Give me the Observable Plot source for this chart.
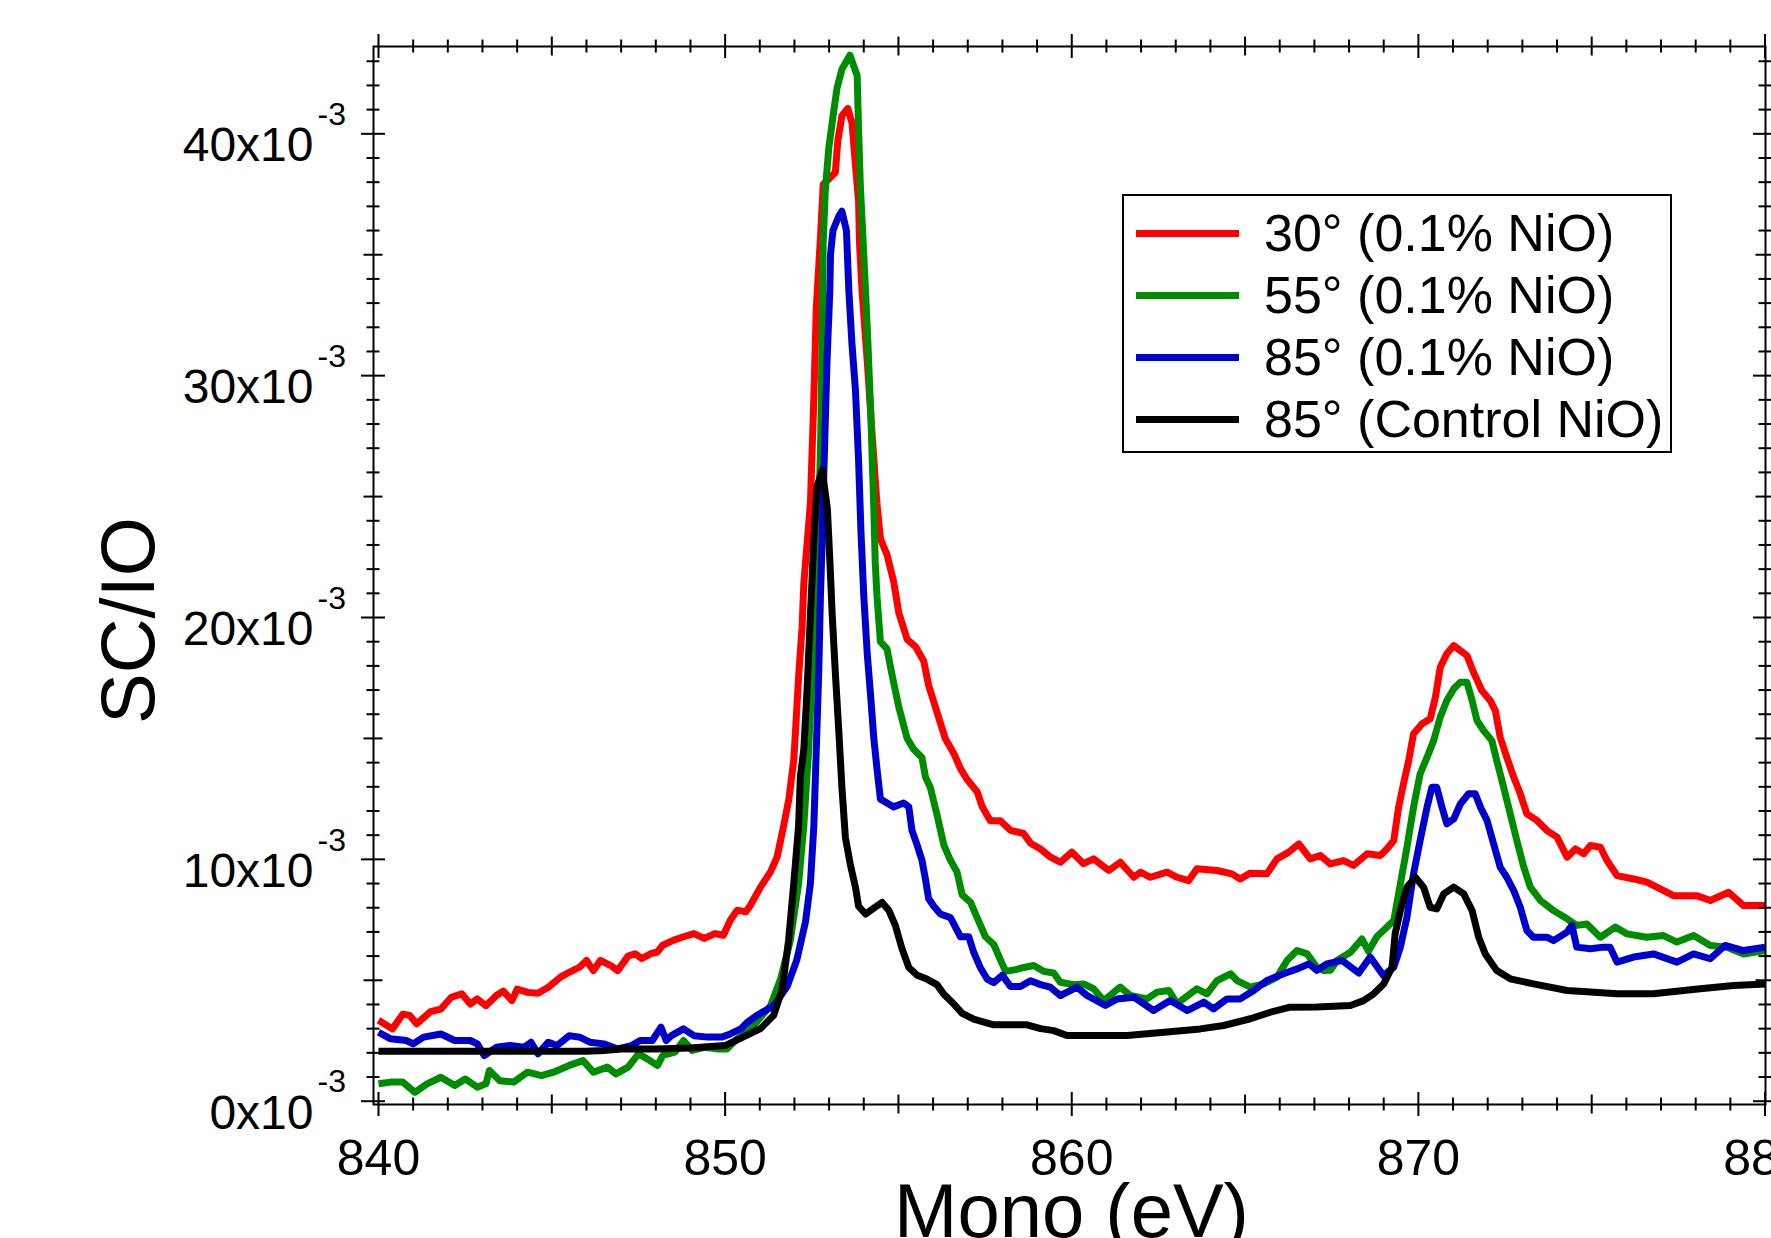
<!DOCTYPE html>
<html><head><meta charset="utf-8">
<script src="https://cdn.jsdelivr.net/npm/d3@7"></script>
<script src="https://cdn.jsdelivr.net/npm/@observablehq/plot@0.6"></script>
<style>
html,body{margin:0;padding:0;background:#fff;}
#wrap{position:relative;width:1771px;height:1238px;overflow:hidden;font-family:Arial,"Liberation Sans",sans-serif;}
#legend{position:absolute;left:1122px;top:194px;width:546px;height:255px;border:2px solid #000;background:#fff;}
.swatch{position:absolute;left:12px;width:103px;height:7px;}
.lab{position:absolute;left:140px;font-size:52px;line-height:52px;white-space:nowrap;color:#000;}
</style></head><body><div id="wrap"></div>
<script>
// Series values: [Mono (eV), SC/IO in units of 1e-3]
const red30 = [[840.0,3.35],[840.4,2.99],[840.7,3.6],[840.9,3.55],[841.1,3.2],[841.5,3.7],[841.8,3.81],[842.1,4.3],[842.4,4.44],[842.65,4.02],[842.85,4.23],[843.1,3.95],[843.4,4.37],[843.6,4.55],[843.85,4.16],[844.0,4.64],[844.3,4.5],[844.6,4.46],[844.9,4.71],[845.25,5.13],[845.5,5.33],[845.8,5.54],[846.0,5.82],[846.2,5.4],[846.4,5.82],[846.7,5.61],[846.9,5.4],[847.2,6.0],[847.4,6.1],[847.6,5.9],[847.85,6.1],[848.05,6.17],[848.2,6.45],[848.5,6.65],[848.8,6.8],[849.1,6.93],[849.4,6.73],[849.7,6.93],[849.95,6.86],[850.15,7.48],[850.35,7.9],[850.6,7.83],[850.73,8.1],[851.02,8.85],[851.31,9.48],[851.5,10.1],[851.69,11.4],[851.84,12.5],[851.98,14.1],[852.03,15.3],[852.12,17.55],[852.22,19.6],[852.27,21.4],[852.36,23.0],[852.46,24.7],[852.56,29.1],[852.63,32.8],[852.75,35.7],[852.83,37.9],[853.18,38.4],[853.25,39.7],[853.37,40.75],[853.54,41.05],[853.66,40.45],[853.76,38.7],[853.85,37.2],[853.88,35.4],[853.95,33.5],[854.1,30.6],[854.24,27.6],[854.38,24.7],[854.48,23.25],[854.67,22.6],[854.86,21.5],[855.01,20.2],[855.25,19.1],[855.49,18.8],[855.73,18.2],[855.87,17.2],[856.11,16.1],[856.35,15.0],[856.59,14.4],[856.79,13.75],[856.98,13.3],[857.27,12.8],[857.41,12.2],[857.65,11.6],[857.94,11.6],[858.23,11.2],[858.61,11.07],[858.81,10.67],[859.1,10.43],[859.38,10.1],[859.67,9.88],[860.0,10.3],[860.34,9.82],[860.63,10.02],[861.07,9.54],[861.4,9.88],[861.79,9.26],[861.98,9.47],[862.27,9.26],[862.75,9.47],[863.04,9.26],[863.37,9.12],[863.61,9.61],[864.19,9.54],[864.62,9.4],[864.86,9.19],[865.15,9.43],[865.63,9.4],[865.92,10.02],[866.26,10.3],[866.55,10.64],[866.88,10.02],[867.17,10.16],[867.46,9.81],[867.84,9.95],[868.13,9.75],[868.52,10.23],[868.9,10.16],[869.09,10.43],[869.29,10.78],[869.43,12.16],[869.57,13.12],[869.72,14.09],[869.86,15.19],[870.1,15.6],[870.34,15.81],[870.49,16.7],[870.63,17.94],[870.82,18.5],[871.02,18.84],[871.21,18.63],[871.4,18.43],[871.59,17.74],[871.83,16.98],[872.07,16.57],[872.22,16.15],[872.36,15.05],[872.55,14.22],[872.75,13.4],[872.94,12.71],[873.13,11.88],[873.42,11.61],[873.71,11.19],[874.0,10.92],[874.29,10.09],[874.53,10.43],[874.77,10.23],[874.96,10.57],[875.25,10.5],[875.44,9.95],[875.73,9.33],[876.21,9.19],[876.59,9.06],[876.98,8.78],[877.36,8.5],[878.03,8.5],[878.42,8.3],[878.95,8.64],[879.38,8.09],[880.0,8.09]];

const green55 = [[840.0,0.72],[840.35,0.79],[840.7,0.79],[841.05,0.37],[841.4,0.72],[841.8,0.99],[842.2,0.65],[842.5,0.92],[842.85,0.58],[843.1,0.72],[843.2,1.27],[843.5,0.85],[843.9,0.79],[844.3,1.2],[844.7,1.06],[845.05,1.2],[845.5,1.48],[845.9,1.68],[846.2,1.2],[846.6,1.41],[846.85,1.13],[847.2,1.41],[847.5,1.96],[847.75,1.75],[848.05,1.48],[848.2,1.89],[848.55,2.03],[848.8,2.51],[849.05,2.1],[849.4,2.23],[849.8,2.16],[850.05,2.16],[850.35,2.58],[850.7,2.92],[851.02,3.47],[851.31,3.95],[851.6,5.05],[851.88,6.64],[852.12,9.0],[852.27,11.4],[852.41,14.55],[852.51,17.7],[852.6,20.9],[852.7,24.0],[852.76,27.6],[852.8,32.0],[852.83,35.6],[852.89,37.65],[852.99,39.4],[853.13,40.9],[853.23,41.9],[853.37,42.67],[853.6,43.25],[853.81,42.4],[853.85,40.16],[853.9,37.9],[854.0,35.0],[854.1,32.0],[854.2,28.5],[854.29,24.5],[854.33,22.3],[854.38,20.9],[854.48,19.0],[854.67,18.7],[854.82,17.6],[855.01,16.3],[855.25,15.0],[855.44,14.55],[855.68,14.2],[855.78,13.4],[855.92,12.97],[856.11,11.86],[856.31,10.59],[856.5,9.96],[856.69,9.48],[856.84,8.53],[857.08,8.22],[857.27,7.59],[857.51,6.8],[857.75,6.48],[857.94,5.85],[858.09,5.37],[858.42,5.45],[858.61,5.53],[858.9,5.61],[859.19,5.37],[859.48,5.3],[859.67,4.92],[860.06,4.82],[860.34,4.85],[860.63,4.65],[860.92,4.16],[861.4,4.72],[861.69,4.37],[862.17,4.23],[862.46,4.51],[862.8,4.58],[863.04,4.03],[863.61,4.65],[863.9,4.44],[864.19,4.99],[864.58,5.27],[864.77,4.99],[865.15,4.72],[865.54,4.85],[865.92,5.13],[866.21,5.82],[866.5,6.23],[866.79,6.09],[867.07,5.54],[867.27,5.4],[867.46,5.41],[867.65,5.82],[868.04,6.16],[868.37,6.71],[868.56,6.2],[868.8,6.8],[868.99,7.06],[869.29,7.47],[869.48,8.99],[869.67,10.5],[869.86,12.16],[870.05,13.53],[870.25,14.22],[870.44,14.91],[870.63,15.88],[870.82,16.57],[871.02,17.05],[871.21,17.32],[871.4,17.32],[871.55,16.57],[871.69,15.74],[871.88,15.33],[872.12,14.91],[872.26,14.09],[872.46,12.98],[872.65,11.88],[872.84,10.78],[873.04,9.68],[873.23,8.85],[873.52,8.3],[873.9,7.88],[874.29,7.54],[874.57,7.27],[874.86,7.33],[875.25,6.78],[875.68,7.2],[876.02,6.92],[876.59,6.78],[877.07,6.85],[877.46,6.58],[877.94,6.85],[878.42,6.44],[878.9,6.37],[879.38,6.09],[880.0,6.23]];

const blue85 = [[840.0,2.85],[840.35,2.58],[840.8,2.51],[841.0,2.37],[841.3,2.65],[841.8,2.78],[842.2,2.51],[842.65,2.51],[842.85,2.37],[843.05,1.89],[843.4,2.23],[843.8,2.3],[844.2,2.23],[844.4,2.44],[844.6,1.96],[844.9,2.44],[845.15,2.3],[845.5,2.71],[845.8,2.65],[846.1,2.44],[846.5,2.37],[846.9,2.16],[847.3,2.3],[847.55,2.51],[847.9,2.51],[848.15,3.06],[848.3,2.51],[848.45,2.71],[848.8,2.99],[849.1,2.71],[849.5,2.65],[849.9,2.65],[850.15,2.78],[850.45,2.99],[850.65,3.27],[850.92,3.55],[851.4,3.95],[851.79,4.74],[852.07,5.85],[852.32,7.43],[852.46,9.0],[852.56,11.4],[852.63,14.55],[852.7,17.7],[852.75,20.9],[852.8,23.2],[852.85,26.1],[852.94,30.6],[853.02,33.5],[853.04,35.0],[853.11,36.0],[853.28,36.6],[853.37,36.8],[853.5,36.0],[853.57,33.5],[853.66,31.3],[853.76,29.4],[853.85,26.5],[853.92,23.5],[854.0,20.9],[854.1,18.5],[854.19,16.9],[854.29,15.0],[854.38,13.76],[854.48,12.49],[854.67,12.33],[854.86,12.17],[855.15,12.33],[855.3,12.17],[855.39,11.2],[855.54,10.59],[855.68,9.96],[855.78,9.17],[855.87,8.38],[856.02,8.06],[856.21,7.74],[856.5,7.59],[856.79,6.8],[857.03,6.8],[857.17,6.16],[857.36,5.53],[857.56,5.05],[857.75,4.9],[858.0,5.21],[858.23,4.74],[858.52,4.74],[858.81,4.98],[859.1,4.82],[859.38,4.72],[859.67,4.37],[860.15,4.72],[860.44,4.37],[860.97,3.96],[861.31,4.23],[861.79,4.3],[862.36,3.75],[862.84,4.16],[863.33,3.75],[863.81,4.1],[864.09,3.82],[864.48,4.23],[864.86,4.23],[865.25,4.58],[865.63,4.99],[866.11,5.27],[866.5,5.47],[866.84,5.68],[867.07,5.41],[867.36,5.68],[867.8,5.82],[868.28,5.3],[868.61,5.96],[868.99,5.2],[869.29,5.54],[869.48,6.37],[869.67,7.61],[869.86,9.4],[870.05,10.78],[870.25,12.16],[870.39,12.98],[870.53,12.98],[870.68,12.16],[870.82,11.47],[871.02,11.67],[871.21,12.29],[871.45,12.71],[871.64,12.71],[871.79,12.16],[871.98,11.61],[872.17,10.64],[872.36,9.68],[872.55,9.26],[872.75,8.71],[872.94,8.02],[873.13,7.06],[873.32,6.78],[873.71,6.78],[873.9,6.64],[874.29,6.99],[874.43,7.27],[874.57,6.37],[874.96,6.3],[875.34,6.37],[875.53,6.37],[875.73,5.75],[876.21,5.96],[876.78,6.09],[877.46,5.75],[877.94,6.09],[878.42,5.89],[878.85,6.44],[879.38,6.23],[880.0,6.37]];

const black85c = [[840.0,2.07],[841.0,2.07],[842.0,2.07],[843.0,2.07],[844.0,2.07],[845.0,2.07],[846.0,2.07],[846.5,2.1],[847.0,2.16],[848.0,2.16],[849.0,2.2],[849.5,2.25],[850.0,2.3],[850.44,2.6],[851.02,3.0],[851.4,3.55],[851.64,4.58],[851.83,6.64],[851.98,9.0],[852.12,11.4],[852.17,13.4],[852.27,14.55],[852.36,16.9],[852.46,20.1],[852.56,23.2],[852.65,25.4],[852.8,26.1],[852.95,24.5],[853.02,22.4],[853.09,20.1],[853.18,17.7],[853.28,15.3],[853.37,12.96],[853.47,10.9],[853.61,9.8],[853.76,8.85],[853.85,8.06],[854.05,7.74],[854.29,7.98],[854.53,8.22],[854.72,7.9],[854.91,7.27],[855.1,6.32],[855.3,5.53],[855.54,5.21],[855.82,5.05],[856.11,4.82],[856.31,4.42],[856.59,4.03],[856.84,3.63],[857.17,3.39],[857.75,3.16],[858.71,3.16],[859.1,3.0],[859.48,2.92],[859.86,2.72],[861.6,2.72],[862.75,2.86],[863.71,2.99],[864.38,3.13],[865.15,3.41],[865.73,3.68],[866.3,3.89],[867.07,3.9],[868.04,3.96],[868.42,4.16],[868.71,4.44],[869.0,4.85],[869.24,5.54],[869.33,6.92],[869.48,7.88],[869.67,8.85],[869.91,9.26],[870.15,8.85],[870.34,8.02],[870.53,7.95],[870.73,8.57],[871.02,8.85],[871.31,8.57],[871.55,7.88],[871.74,6.78],[871.93,6.09],[872.26,5.4],[872.65,5.06],[873.32,4.85],[874.29,4.58],[875.73,4.44],[876.78,4.44],[878.13,4.65],[879.09,4.78],[880.0,4.85]];

const seriesNames = ["30° (0.1% NiO)", "55° (0.1% NiO)", "85° (0.1% NiO)", "85° (Control NiO)"];
const seriesColors = ["#ff0000", "#008c00", "#0000cc", "#000000"];
const seriesValues = [red30, green55, blue85, black85c];

const xTickLabels = [840, 850, 860, 870, 880];
const xMediumTicks = [845, 855, 865, 875];
const xMinorTicks = d3.range(841, 880).filter(d => d % 5 !== 0);
const yTickLabels = [0, 10, 20, 30, 40];
const yMediumTicks = [5, 15, 25, 35];
const yMinorTicks = d3.range(1, 44).filter(d => d % 5 !== 0);
const yExponent = "-3";
const xTitle = "Mono (eV)";
const yTitle = "SC/IO";

// layout
const W = 1771, H = 1238, mL = 373, mR = 6, mT = 46, mB = 134;
const fw = W - mL - mR, fh = H - mT - mB;

const data = seriesValues.flatMap((arr, i) => arr.map(([x, y]) => ({x, y, s: seriesNames[i]})));

const ax = {stroke: "#000", strokeWidth: 2};
function xTicks(vals, len) {
  return [
    Plot.tickX(vals, {x: d => d, insetTop: fh - len, insetBottom: -len, ...ax}),
    Plot.tickX(vals, {x: d => d, insetTop: -len, insetBottom: fh - len, ...ax})
  ];
}
function yTicks(vals, len) {
  return [
    Plot.tickY(vals, {y: d => d, insetLeft: -len, insetRight: fw - len, ...ax}),
    Plot.tickY(vals, {y: d => d, insetLeft: fw - len, insetRight: -len, ...ax})
  ];
}

const chart = Plot.plot({
  width: W, height: H,
  marginLeft: mL, marginRight: mR, marginTop: mT, marginBottom: mB,
  style: {fontFamily: "Arial, 'Liberation Sans', sans-serif", background: "#fff", overflow: "hidden"},
  x: {domain: [839.856, 880.014], axis: null},
  y: {domain: [-0.136, 43.61], axis: null},
  color: {domain: seriesNames, range: seriesColors},
  marks: [
    Plot.line(data, {x: "x", y: "y", z: "s", stroke: "s", strokeWidth: 7, strokeLinejoin: "round", strokeLinecap: "butt"}),
    Plot.frame({stroke: "#000", strokeWidth: 2}),
    ...xTicks(xTickLabels, 12),
    ...xTicks(xMediumTicks, 9.5),
    ...xTicks(xMinorTicks, 6.5),
    ...yTicks(yTickLabels, 12),
    ...yTicks(yMediumTicks, 9.5),
    ...yTicks(yMinorTicks, 6.5),
    Plot.text(xTickLabels, {x: d => d, frameAnchor: "bottom", lineAnchor: "top", dy: 35, text: d => String(d), fontSize: 50, fill: "#000"}),
    Plot.text(yTickLabels, {y: d => d, frameAnchor: "left", textAnchor: "end", dx: -60, dy: 12, text: d => `${d}x10`, fontSize: 48, fill: "#000"}),
    Plot.text(yTickLabels, {y: d => d, frameAnchor: "left", textAnchor: "start", dx: -56, dy: -19, text: () => yExponent, fontSize: 32, fill: "#000"}),
    Plot.text([yTitle], {frameAnchor: "left", textAnchor: "middle", text: d => d, rotate: -90, dx: -244, dy: 45, fontSize: 76, fill: "#000"}),
    Plot.text([xTitle], {frameAnchor: "bottom", lineAnchor: "top", dx: 2, dy: 79, text: d => d, fontSize: 76, fill: "#000"})
  ]
});

const wrap = document.getElementById("wrap");
wrap.appendChild(chart);

// legend overlay
const legend = document.createElement("div");
legend.id = "legend";
seriesNames.forEach((name, i) => {
  const cy = 37 + 62 * i;
  const sw = document.createElement("div");
  sw.className = "swatch";
  sw.style.top = (cy - 3.5) + "px";
  sw.style.background = seriesColors[i];
  const lab = document.createElement("div");
  lab.className = "lab";
  lab.style.top = (cy - 26) + "px";
  lab.textContent = name;
  legend.appendChild(sw);
  legend.appendChild(lab);
});
wrap.appendChild(legend);
</script>
</body></html>
